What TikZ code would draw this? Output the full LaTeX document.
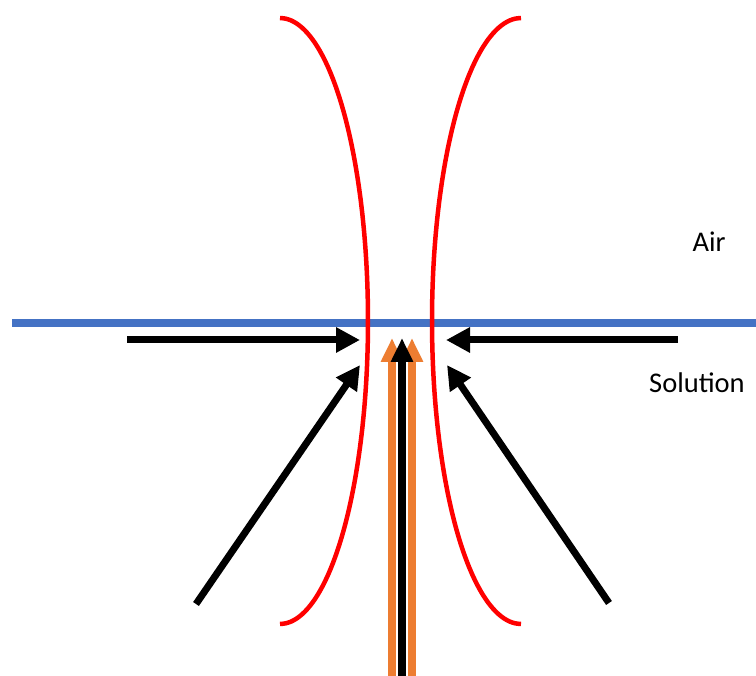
\documentclass[tikz,border=0pt]{standalone}
\usepackage{fontspec}
\setmainfont{Carlito}
\usepackage{tikz}
\usetikzlibrary{arrows.meta}
\definecolor{surfblue}{HTML}{4472C4}
\definecolor{flowora}{HTML}{ED7D31}
\tikzset{
  filmfig/.style={x=1pt,y=-1pt,
    every node/.style={font=\fontsize{28.5}{34}\selectfont}},
  surface/.style={draw=surfblue,line width=8pt},
  meniscus/.style={draw=red,line width=4.5pt},
  inflow/.style={line width=7pt,-{Triangle[length=24pt,width=24pt]}},
  upflow/.style={line width=8pt,-{Triangle[length=24pt,width=21pt]}},
}
\begin{document}
\begin{tikzpicture}[filmfig]
    \useasboundingbox (0,0) rectangle (756,676);
    \node (air) at (709,242) {Air};
    \node (sol) at (697,383) {Solution};

    % interface
    \draw[surface] (12,323) -- (756,323);

    % red lines of the neck
    \draw[meniscus] plot[smooth,domain=-90:90,samples=50]
      ({280+88*cos(\x)},{321+303*sin(\x)});
    \draw[meniscus] plot[smooth,domain=-90:90,samples=50]
      ({521-89*cos(\x)},{321+303*sin(\x)});

    % flow into the neck
    \coordinate (lfar) at (127,340);
    \coordinate (ltip) at (360,340);
    \coordinate (rfar) at (678,340);
    \coordinate (rtip) at (446,340);
    \coordinate (lbot) at (196,604);
    \coordinate (ldtip) at (360,365);
    \coordinate (rbot) at (609,603);
    \coordinate (rdtip) at (447,365);
    \draw[inflow] (lfar) -- (ltip);
    \draw[inflow] (rfar) -- (rtip);
    \draw[inflow] (lbot) -- (ldtip);
    \draw[inflow] (rbot) -- (rdtip);

    % flow up the middle
    \coordinate (obl) at (392,676);
    \coordinate (otl) at (392,338);
    \coordinate (obr) at (412,676);
    \coordinate (otr) at (412,338);
    \coordinate (kb) at (402,676);
    \coordinate (kt) at (402,338);
    \coordinate (kw) at (402,370);
    \draw[upflow,flowora] (obl) -- (otl);
    \draw[upflow,flowora] (obr) -- (otr);
    \draw[line width=11pt,white] (kb) -- (kw);
    \draw[upflow,black] (kb) -- (kt);
\end{tikzpicture}
\end{document}
